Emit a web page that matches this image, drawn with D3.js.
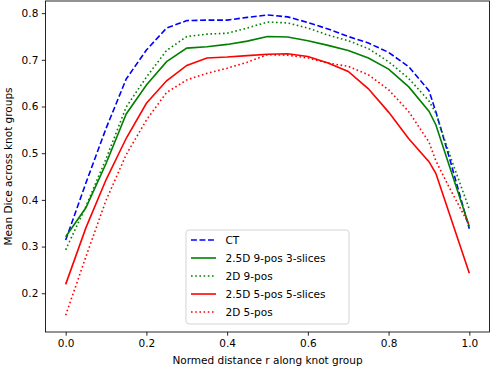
<!DOCTYPE html>
<meta charset="utf-8">
<style>
  body { margin: 0; background: #fff; }
  text { font-family: 'DejaVu Sans', sans-serif; fill: #000; }
</style>
<body>
<div id="chart"></div>
<script src="https://d3js.org/d3.v7.min.js"></script>
<script>
// sample positions along the knot group
var r = [0, 0.05, 0.1, 0.15, 0.2, 0.25, 0.3, 0.35, 0.4, 0.45, 0.5, 0.55,
         0.6, 0.65, 0.7, 0.75, 0.8, 0.85, 0.9, 0.917, 0.95, 1.0];

// mean dice per model
var ct       = [0.314, 0.436, 0.553, 0.659, 0.721, 0.768, 0.784, 0.785, 0.785, 0.791, 0.796, 0.792,
                0.780, 0.766, 0.750, 0.736, 0.716, 0.685, 0.634, 0.589, 0.492, 0.338];
var d25_9pos = [0.321, 0.383, 0.478, 0.584, 0.646, 0.696, 0.725, 0.728, 0.733, 0.740, 0.750, 0.749,
                0.741, 0.731, 0.720, 0.704, 0.680, 0.642, 0.590, 0.561, 0.474, 0.343];
var d2_9pos  = [0.293, 0.386, 0.488, 0.599, 0.663, 0.720, 0.750, 0.755, 0.757, 0.768, 0.781, 0.779,
                0.768, 0.753, 0.741, 0.724, 0.696, 0.660, 0.612, 0.586, 0.500, 0.380];
var d25_5pos = [0.219, 0.340, 0.443, 0.532, 0.607, 0.655, 0.688, 0.704, 0.706, 0.709, 0.712, 0.713,
                0.707, 0.693, 0.675, 0.638, 0.588, 0.531, 0.482, 0.457, 0.372, 0.243];
var d2_5pos  = [0.153, 0.278, 0.399, 0.497, 0.571, 0.630, 0.657, 0.671, 0.682, 0.695, 0.711, 0.710,
                0.704, 0.693, 0.686, 0.668, 0.636, 0.589, 0.524, 0.484, 0.427, 0.346];

var names = ["CT", "2.5D 9-pos 3-slices", "2D 9-pos", "2.5D 5-pos 5-slices", "2D 5-pos"];
var xTicks = [0, 0.2, 0.4, 0.6, 0.8, 1.0];
var yTicks = [0.2, 0.3, 0.4, 0.5, 0.6, 0.7, 0.8];

var series = [
  {name: names[0], values: ct,       color: "#0000ff", dash: "5.9,2.6"},
  {name: names[1], values: d25_9pos, color: "#008000", dash: null},
  {name: names[2], values: d2_9pos,  color: "#008000", dash: "1.6,2.6"},
  {name: names[3], values: d25_5pos, color: "#ff0000", dash: null},
  {name: names[4], values: d2_5pos,  color: "#ff0000", dash: "1.6,2.6"}
];

var W = 490, H = 369;
var plotL = 45.5, plotR = 489.5, plotT = 1, plotB = 332;

var svg = d3.select("#chart").append("svg")
    .attr("width", W)
    .attr("height", H);

var x = d3.scaleLinear().domain([-0.05, 1.05]).range([plotL, plotR]);
var y = d3.scaleLinear().domain([0.117, 0.826]).range([plotB, plotT]);

// axes
var xAxis = svg.append("g")
    .attr("transform", "translate(0," + plotB + ")")
    .call(d3.axisBottom(x).tickValues(xTicks).tickFormat(d3.format(".1f"))
          .tickSize(3.7).tickPadding(3.5));
var yAxis = svg.append("g")
    .attr("transform", "translate(" + plotL + ",0)")
    .call(d3.axisLeft(y).tickValues(yTicks).tickFormat(d3.format(".1f"))
          .tickSize(3.7).tickPadding(3.5));
[xAxis, yAxis].forEach(function(g) {
  g.select(".domain").remove();
  g.selectAll("line").attr("stroke", "#000").attr("stroke-width", 0.85);
  g.selectAll("text").style("font-family", "'DejaVu Sans', sans-serif")
    .style("font-size", "10.5px").attr("fill", "#000");
});

// lines
var line = d3.line()
    .x(function(d, i) { return x(r[i]); })
    .y(function(d) { return y(d); });

series.forEach(function(s) {
  svg.append("path")
    .datum(s.values)
    .attr("d", line)
    .attr("fill", "none")
    .attr("stroke", s.color)
    .attr("stroke-width", 1.6)
    .attr("stroke-dasharray", s.dash);
});

// frame
svg.append("rect")
  .attr("x", plotL).attr("y", plotT)
  .attr("width", plotR - plotL).attr("height", plotB - plotT)
  .attr("fill", "none").attr("stroke", "#000").attr("stroke-width", 0.85);

// axis labels
svg.append("text")
  .attr("x", (plotL + plotR) / 2).attr("y", 364)
  .attr("text-anchor", "middle")
  .style("font-size", "10.5px")
  .text("Normed distance r along knot group");

svg.append("text")
  .attr("transform", "translate(12," + ((plotT + plotB) / 2) + ") rotate(-90)")
  .attr("text-anchor", "middle")
  .style("font-size", "10.5px")
  .text("Mean Dice across knot groups");

// legend
var lg = svg.append("g").attr("transform", "translate(186,230)");
lg.append("rect")
  .attr("width", 163).attr("height", 94).attr("rx", 3)
  .attr("fill", "#fff").attr("fill-opacity", 0.8)
  .attr("stroke", "#cccccc").attr("stroke-width", 0.85);

series.forEach(function(s, i) {
  var yy = 10 + i * 18;
  lg.append("line")
    .attr("x1", 5).attr("x2", 30)
    .attr("y1", yy).attr("y2", yy)
    .attr("stroke", s.color).attr("stroke-width", 1.6)
    .attr("stroke-dasharray", s.dash);
  lg.append("text")
    .attr("x", 39.5).attr("y", yy + 3.8)
    .style("font-size", "10.5px")
    .text(s.name);
});
</script>
</body>
